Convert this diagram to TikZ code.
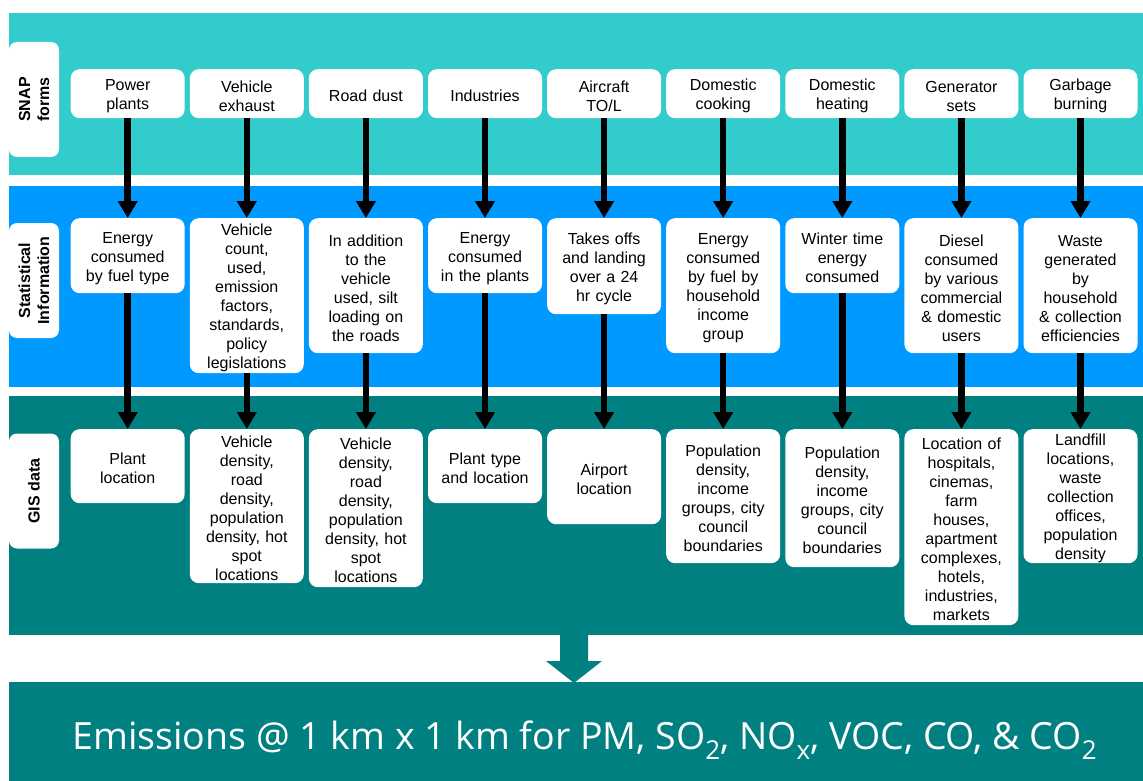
\documentclass[tikz,border=0pt]{standalone}
\usepackage{fontspec}
\setmainfont{Liberation Sans}
\newfontfamily\emisfont{Open Sans}
\usetikzlibrary{arrows.meta}
\definecolor{snapc}{HTML}{33CCCC}
\definecolor{statc}{HTML}{0099FF}
\definecolor{gisc}{HTML}{008080}
\tikzset{
  cbox/.style={fill=white, rounded corners=9pt, align=center, inner xsep=2pt, inner ysep=0pt,
    text width=110pt, anchor=north, font=\fontsize{16}{19}\selectfont,
    execute at begin node={\rule{0pt}{16pt}}},
  lbox/.style={fill=white, rounded corners=8pt, align=center, inner sep=0pt, rotate=90,
    minimum width=115pt, minimum height=50pt, font=\fontsize{16}{19}\selectfont\bfseries},
  arr/.style={line width=6.5pt, -{Triangle[width=19pt,length=17pt]}}
}
\newcommand{\subtwo}[1]{\raisebox{-10pt}{\fontsize{26}{26}\selectfont #1}}
\begin{document}
\begin{tikzpicture}[x=1pt,y=-1pt]
\useasboundingbox (0,0) rectangle (1143,781);
% bands
\fill[snapc] (9,13) rectangle (1143,175);
\fill[statc] (9,186) rectangle (1143,387);
\fill[gisc] (9,396) rectangle (1143,635);
\fill[gisc] (9,682) rectangle (1143,781);
\fill[gisc] (560,634) -- (588,634) -- (588,661) -- (602,661) -- (574,683) -- (546,661) -- (560,661) -- cycle;
% row labels
\node[lbox] (lsnap) at (34,99.5) {SNAP\\forms};
\node[lbox] (lstat) at (34,280.5) {Statistical\\Information};
\node[lbox] (lgis) at (34,491) {GIS data};
% SNAP row
\foreach \i/\x/\t in {1/127.7/{Power\\plants},2/246.8/{Vehicle\\exhaust},3/365.9/{Road dust},
  4/485/{Industries},5/604.1/{Aircraft\\TO/L},6/723.2/{Domestic\\cooking},7/842.3/{Domestic\\heating},
  8/961.4/{Generator\\sets},9/1080.5/{Garbage\\burning}}
  {\node[cbox, minimum height=49pt] (s\i) at (\x,69) {\t};}
% Statistical row
\foreach \i/\x/\h/\t in {1/127.7/75/{Energy\\consumed\\by fuel type},
  2/246.8/155/{Vehicle\\count,\\used,\\emission\\factors,\\standards,\\policy\\legislations},
  3/365.9/135/{In addition\\to the\\vehicle\\used, silt\\loading on\\the roads},
  4/485/75/{Energy\\consumed\\in the plants},
  5/604.1/96/{Takes offs\\and landing\\over a 24\\hr cycle},
  6/723.2/135/{Energy\\consumed\\by fuel by\\household\\income\\group},
  7/842.3/75/{Winter time\\energy\\consumed},
  8/961.4/135/{Diesel\\consumed\\by various\\commercial\\\& domestic\\users},
  9/1080.5/135/{Waste\\generated\\by\\household\\\& collection\\efficiencies}}
  {\node[cbox, minimum height=\h pt] (t\i) at (\x,218) {\t};}
% GIS row
\foreach \i/\x/\h/\t in {1/127.7/74/{Plant\\location},
  2/246.8/154/{Vehicle\\density,\\road\\density,\\population\\density, hot\\spot\\locations},
  3/365.9/158/{Vehicle\\density,\\road\\density,\\population\\density, hot\\spot\\locations},
  4/485/74/{Plant type\\and location},
  5/604.1/95/{Airport\\location},
  6/723.2/134/{Population\\density,\\income\\groups, city\\council\\boundaries},
  7/842.3/138/{Population\\density,\\income\\groups, city\\council\\boundaries},
  8/961.4/196/{Location of\\hospitals,\\cinemas,\\farm\\houses,\\apartment\\complexes,\\hotels,\\industries,\\markets},
  9/1080.5/134/{Landfill\\locations,\\waste\\collection\\offices,\\population\\density}}
  {\node[cbox, minimum height=\h pt] (g\i) at (\x,429) {\t};}
% arrows
\foreach \i in {1,...,9}{
  \draw[arr] (s\i.south) -- (t\i.north);
  \draw[arr] (t\i.south) -- (g\i.north);
}
% result
\node[anchor=base, text=white, inner sep=0pt, font=\emisfont\fontsize{37.5}{40}\selectfont] (res) at (584.5,749)
  {Emissions @ 1 km x 1 km for PM, SO\subtwo{2}, NO\subtwo{x}, VOC, CO, \& CO\subtwo{2}};
\end{tikzpicture}
\end{document}
